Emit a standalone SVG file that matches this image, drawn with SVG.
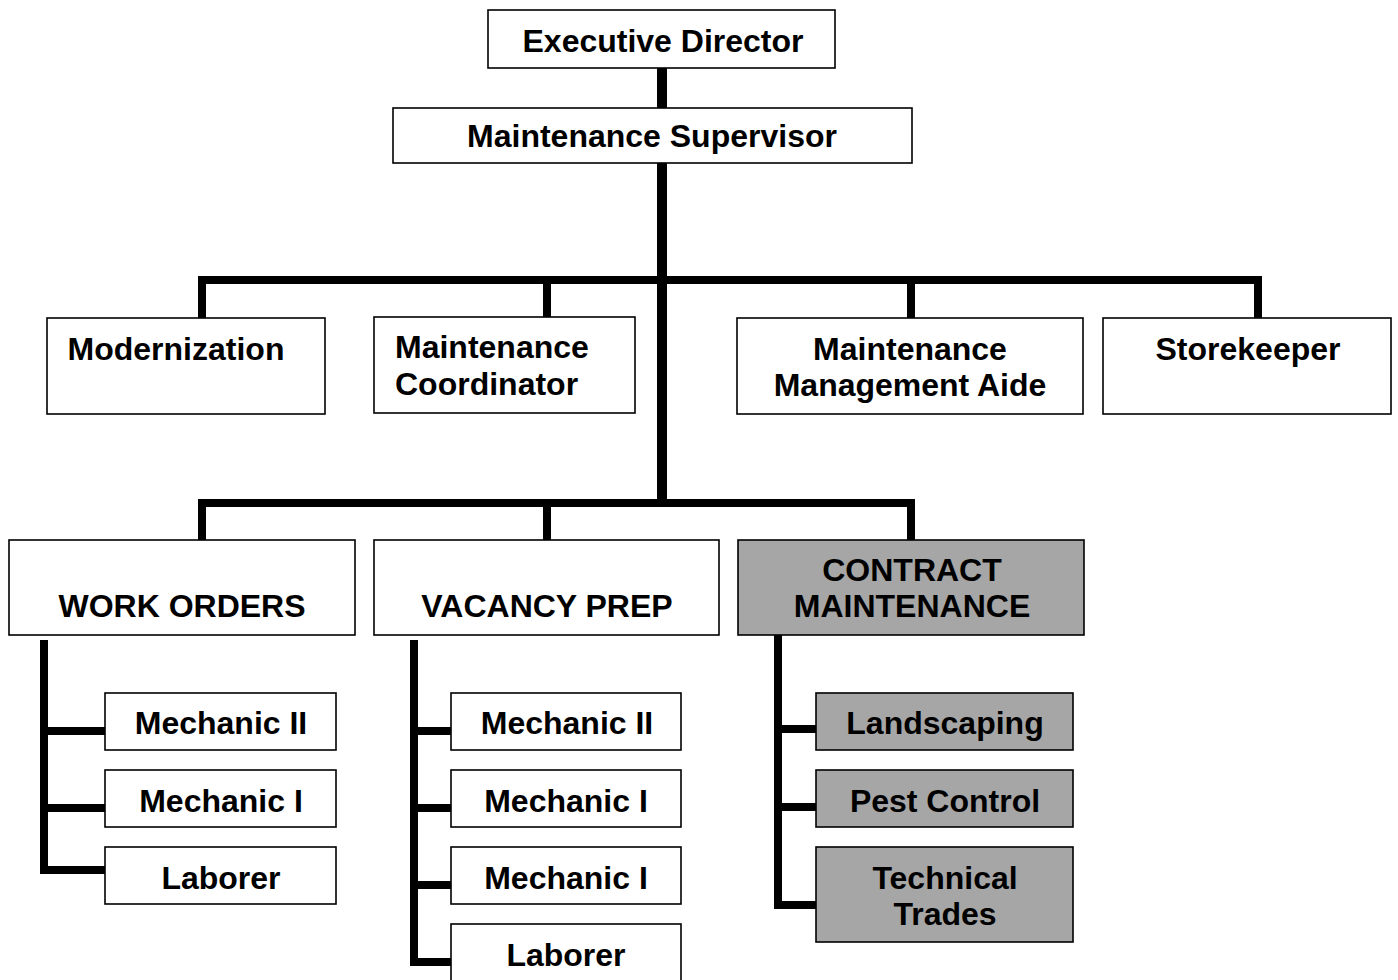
<svg xmlns="http://www.w3.org/2000/svg" width="1398" height="980" viewBox="0 0 1398 980">
<style>
.box{fill:#ffffff;stroke:#000000;stroke-width:1.6}
.gray{fill:#a6a6a6;stroke:#000000;stroke-width:1.6}
.t{font-family:"Liberation Sans",Arial,sans-serif;font-weight:bold;font-size:32px;fill:#000000;text-anchor:middle}
.l{text-anchor:start}
.c{fill:none;stroke:#000000;stroke-width:8;stroke-linejoin:miter;stroke-linecap:butt}
.cw{stroke-width:10}
</style>
<rect width="1398" height="980" fill="#ffffff"/>
<g id="connectors">
<path class="c cw" d="M662,68 V108"/>
<path class="c cw" d="M662,163 V507"/>
<path class="c" d="M202,318 V280 H1258 V318"/>
<path class="c" d="M547,280 V317"/>
<path class="c" d="M911,280 V318"/>
<path class="c" d="M202,540 V503 H911 V540"/>
<path class="c" d="M547,503 V540"/>
<path class="c" d="M44,640 V870 H105"/>
<path class="c" d="M44,731 H105"/>
<path class="c" d="M44,808 H105"/>
<path class="c" d="M414,640 V962 H451"/>
<path class="c" d="M414,731 H451"/>
<path class="c" d="M414,808 H451"/>
<path class="c" d="M414,885 H451"/>
<path class="c" d="M778,635 V905 H816"/>
<path class="c" d="M778,729 H816"/>
<path class="c" d="M778,807 H816"/>
</g>
<g id="executive-director"><rect class="box" x="488" y="10" width="347" height="58"/><text class="t" x="663" y="52">Executive Director</text></g>
<g id="maintenance-supervisor"><rect class="box" x="393" y="108" width="519" height="55"/><text class="t" x="652" y="147">Maintenance Supervisor</text></g>
<g id="modernization"><rect class="box" x="47" y="318" width="278" height="96"/><text class="t" x="176" y="360">Modernization</text></g>
<g id="maintenance-coordinator"><rect class="box" x="374" y="317" width="261" height="96"/><text class="t l" x="395" y="358">Maintenance</text><text class="t l" x="395" y="395">Coordinator</text></g>
<g id="maintenance-management-aide"><rect class="box" x="737" y="318" width="346" height="96"/><text class="t" x="910" y="360">Maintenance</text><text class="t" x="910" y="396">Management Aide</text></g>
<g id="storekeeper"><rect class="box" x="1103" y="318" width="288" height="96"/><text class="t" x="1248" y="360">Storekeeper</text></g>
<g id="work-orders"><rect class="box" x="9" y="540" width="346" height="95"/><text class="t" x="182" y="617">WORK ORDERS</text></g>
<g id="vacancy-prep"><rect class="box" x="374" y="540" width="345" height="95"/><text class="t" x="547" y="617">VACANCY PREP</text></g>
<g id="contract-maintenance"><rect class="gray" x="738" y="540" width="346" height="95"/><text class="t" x="912" y="581">CONTRACT</text><text class="t" x="912" y="617">MAINTENANCE</text></g>
<g id="wo-mechanic-ii"><rect class="box" x="105" y="693" width="231" height="57"/><text class="t" x="221" y="734">Mechanic II</text></g>
<g id="wo-mechanic-i"><rect class="box" x="105" y="770" width="231" height="57"/><text class="t" x="221" y="812">Mechanic I</text></g>
<g id="wo-laborer"><rect class="box" x="105" y="847" width="231" height="57"/><text class="t" x="221" y="889">Laborer</text></g>
<g id="vp-mechanic-ii"><rect class="box" x="451" y="693" width="230" height="57"/><text class="t" x="567" y="734">Mechanic II</text></g>
<g id="vp-mechanic-i-1"><rect class="box" x="451" y="770" width="230" height="57"/><text class="t" x="566" y="812">Mechanic I</text></g>
<g id="vp-mechanic-i-2"><rect class="box" x="451" y="847" width="230" height="57"/><text class="t" x="566" y="889">Mechanic I</text></g>
<g id="vp-laborer"><rect class="box" x="451" y="924" width="230" height="60"/><text class="t" x="566" y="966">Laborer</text></g>
<g id="landscaping"><rect class="gray" x="816" y="693" width="257" height="57"/><text class="t" x="945" y="734">Landscaping</text></g>
<g id="pest-control"><rect class="gray" x="816" y="770" width="257" height="57"/><text class="t" x="945" y="812">Pest Control</text></g>
<g id="technical-trades"><rect class="gray" x="816" y="847" width="257" height="95"/><text class="t" x="945" y="889">Technical</text><text class="t" x="945" y="925">Trades</text></g>
</svg>
